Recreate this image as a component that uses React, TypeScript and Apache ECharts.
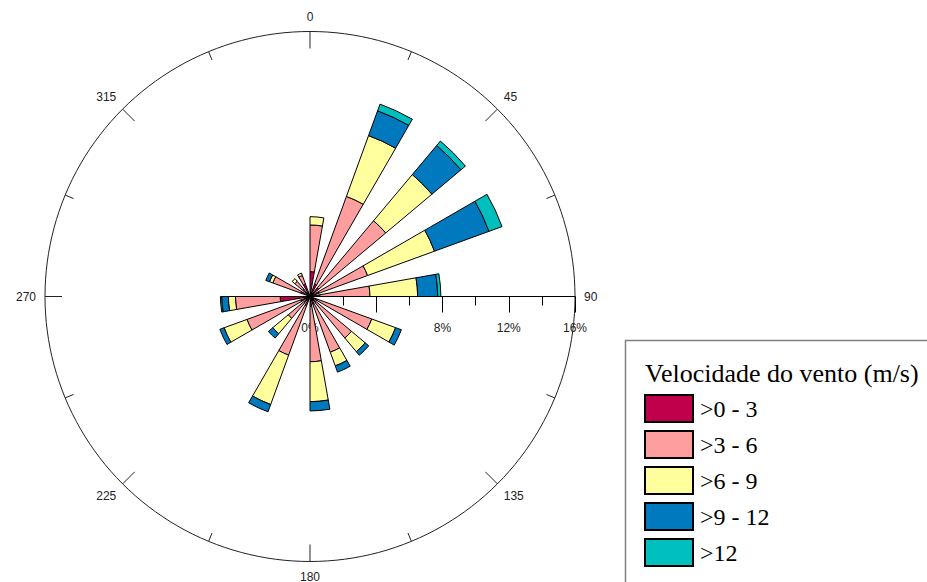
import React, { useEffect, useRef } from 'react';
import * as echarts from 'echarts';

// 16 wind directions and the bearing (deg) where each plotted 10° sector starts
const directions = ['N', 'NNE', 'NE', 'ENE', 'E', 'ESE', 'SE', 'SSE', 'S', 'SSW', 'SW', 'WSW', 'W', 'WNW', 'NW', 'NNW'];
const sectorStart = [0, 20, 40, 60, 80, 110, 130, 150, 170, 200, 220, 240, 260, 290, 310, 330];

const speedClasses = ['>0 - 3', '>3 - 6', '>6 - 9', '>9 - 12', '>12'];
const classColors = ['#C0004A', '#FF9E9E', '#FFFF9E', '#0079BF', '#00BFBF'];

// frequency (%) per direction, one array per speed class
const speed0to3 = [1.5, 0.8, 0.7, 0.6, 0.6, 0.5, 0.5, 0.5, 0.6, 0.6, 0.5, 0.6, 1.8, 0.6, 0.6, 0.8];
const speed3to6 = [2.82, 5.63, 5.27, 3.1, 3.02, 3.47, 2.77, 3.08, 3.34, 3.17, 1.22, 3.45, 2.7, 1.79, 0.6, 0.55];
const speed6to9 = [0.5, 3.91, 3.64, 4.3, 2.88, 1.53, 1.08, 0.88, 2.41, 3.17, 1.21, 1.47, 0.43, 0.21, 0.21, 0.15];
const speed9to12 = [0, 1.59, 2.29, 3.5, 1.21, 0.37, 0.28, 0.4, 0.56, 0.47, 0.35, 0.27, 0.4, 0.24, 0, 0];
const speedAbove12 = [0, 0.43, 0.35, 0.84, 0.19, 0, 0, 0, 0, 0, 0, 0, 0.08, 0, 0, 0];

const classValues = [speed0to3, speed3to6, speed6to9, speed9to12, speedAbove12];

// compass scale
const compassMax = 360;
const compassInterval = 45;
// radial scale (%)
const radialMax = 16;
const radialInterval = 4;

const SLOT = 10; // degrees per angular slot of the bar axis
const slotLabels = Array.from({ length: 360 / SLOT }, (_, i) => String(i * SLOT));

function buildSlotData(values: number[]) {
  const arr: (number | null)[] = slotLabels.map(() => null);
  values.forEach((v, i) => {
    arr[sectorStart[i] / SLOT] = v > 0 ? v : null;
  });
  return arr;
}

export default function App() {
  const ref = useRef<HTMLDivElement>(null);

  useEffect(() => {
    if (!ref.current) return;
    const chart = echarts.init(ref.current, null, { renderer: 'svg' });
    const cx = 310;
    const cy = 296.5;
    const radius = 265;
    const axisColor = '#222';
    const labelFont = { fontFamily: 'Liberation Sans', fontSize: 12, color: axisColor };

    const option: any = {
      animation: false,
      backgroundColor: '#fff',
      polar: [
        { center: [cx, cy], radius },
        { center: [cx, cy], radius },
      ],
      angleAxis: [
        {
          polarIndex: 0,
          type: 'category',
          data: slotLabels,
          startAngle: 90,
          clockwise: true,
          boundaryGap: true,
          axisLine: { show: false },
          axisTick: { show: false },
          axisLabel: { show: false },
          splitLine: { show: false },
          splitArea: { show: false },
        },
        {
          polarIndex: 1,
          type: 'value',
          min: 0,
          max: compassMax,
          interval: compassInterval,
          startAngle: 90,
          clockwise: true,
          z: 1,
          axisLine: { show: true, lineStyle: { color: axisColor, width: 1 } },
          axisTick: { show: true, inside: true, length: 17, lineStyle: { color: axisColor, width: 1 } },
          minorTick: { show: true, splitNumber: 2, length: 9, lineStyle: { color: axisColor, width: 1 } },
          axisLabel: { show: true, margin: 9, ...labelFont },
          splitLine: { show: false },
          minorSplitLine: { show: false },
        },
      ],
      radiusAxis: [
        {
          polarIndex: 0,
          min: 0,
          max: radialMax,
          axisLine: { show: false },
          axisTick: { show: false },
          axisLabel: { show: false },
          splitLine: { show: false },
        },
        {
          polarIndex: 1,
          min: 0,
          max: radialMax,
          axisLine: { show: false },
          axisTick: { show: false },
          axisLabel: { show: false },
          splitLine: { show: false },
        },
      ],
      // radial (%) scale drawn along the east direction
      grid: { left: cx, top: 0, width: radius, height: cy, containLabel: false },
      xAxis: {
        type: 'value',
        position: 'bottom',
        min: 0,
        max: radialMax,
        interval: radialInterval,
        z: 1,
        axisLine: { show: true, onZero: false, lineStyle: { color: '#000', width: 1 } },
        axisTick: { show: true, inside: false, length: 16, lineStyle: { color: '#000', width: 1 } },
        minorTick: { show: true, splitNumber: 2, length: 9, lineStyle: { color: '#000', width: 1 } },
        axisLabel: { show: true, margin: 25, formatter: (v: number) => v + '%', ...labelFont },
        splitLine: { show: false },
        minorSplitLine: { show: false },
      },
      yAxis: { type: 'value', show: false, min: 0, max: 1 },
      legend: {
        orient: 'vertical',
        left: 644,
        top: 394,
        height: 190,
        padding: 0,
        itemWidth: 48,
        itemHeight: 27,
        itemGap: 7,
        icon: 'rect',
        selectedMode: false,
        z: 10,
        data: speedClasses,
        textStyle: { fontFamily: 'Liberation Serif', fontSize: 24, lineHeight: 27, color: '#000', padding: [0, 0, 0, 2] },
      },
      graphic: [
        {
          type: 'rect',
          z: 5,
          shape: { x: 625.5, y: 340.5, width: 400, height: 300 },
          style: { fill: 'transparent', stroke: '#808080', lineWidth: 1.5 },
        },
        {
          type: 'text',
          z: 6,
          x: 645,
          y: 373,
          style: {
            text: 'Velocidade do vento (m/s)',
            fontFamily: 'Liberation Serif',
            fontSize: 26,
            fill: '#000',
            verticalAlign: 'middle',
            align: 'left',
          },
        },
      ],
      series: speedClasses.map((name, k) => ({
        name,
        type: 'bar',
        coordinateSystem: 'polar',
        polarIndex: 0,
        stack: 'wind',
        barCategoryGap: '0%',
        z: 3,
        data: buildSlotData(classValues[k]),
        itemStyle: { color: classColors[k], borderColor: '#000', borderWidth: 1 },
        emphasis: { disabled: true },
      })),
    };

    chart.setOption(option);
    return () => chart.dispose();
  }, []);

  return (
    <div
      ref={ref}
      data-directions={directions.join(',')}
      style={{ position: 'fixed', left: 0, top: 0, width: 927, height: 582, background: '#fff' }}
    />
  );
}
